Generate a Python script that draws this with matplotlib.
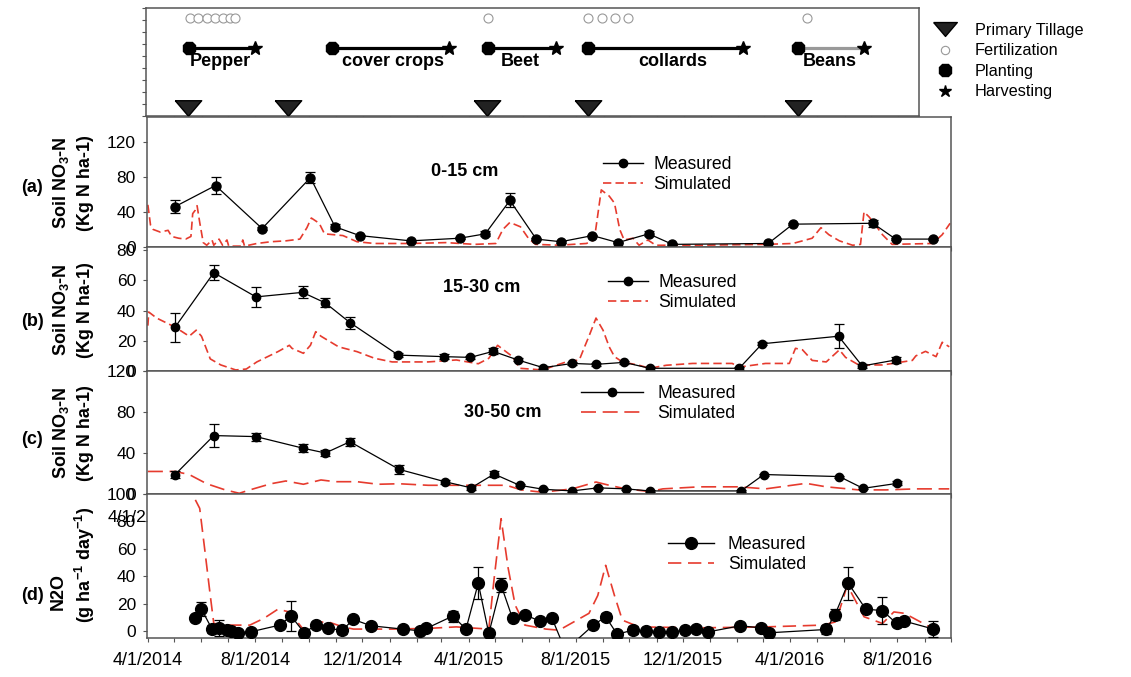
import numpy as np
import pandas as pd
import matplotlib
matplotlib.use('Agg')
import matplotlib.pyplot as plt
import matplotlib.dates as mdates
from matplotlib.lines import Line2D
from matplotlib.ticker import FuncFormatter, NullFormatter

plt.rcParams['font.family'] = ['Liberation Sans', 'DejaVu Sans']
plt.rcParams['mathtext.fontset'] = 'custom'
plt.rcParams['mathtext.rm'] = 'Liberation Sans'
plt.rcParams['mathtext.bf'] = 'Liberation Sans:bold'

# all x values are days after 4/1/2014
start = pd.Timestamp('2014-04-01')

# management events (top strip)
fert_day = [48, 57, 67, 76, 85, 93, 99, 387, 500, 516, 531, 546, 749]
plant_day = [47, 209, 387, 500, 739]
harvest_day = [122, 342, 464, 676, 814]
tillage_day = [45, 159, 385, 500, 739]
crop_names = ['Pepper', 'cover crops', 'Beet', 'collards', 'Beans']
crop_label_day = [82, 279, 423, 597, 775]

# (a) 0-15 cm
a_day = [31, 77, 130, 185, 213, 241, 299, 355, 384, 412, 442, 470, 506, 535, 570, 597, 706, 734, 825, 851, 894]
a_meas = [46, 70, 21, 79, 23, 13, 7, 10, 15, 53, 9, 6, 13, 5, 15, 3, 4, 26, 27, 9, 9]
a_err = [7, 10, 2, 6, 3, 1, 1, 1, 3, 8, 1, 1, 1, 1, 3, 1, 1, 1, 4, 1, 1]
a_sim_day = [0, 3, 6, 14, 23, 27, 35, 43, 49, 51, 54, 56, 59, 63, 67, 73, 75, 81, 85, 90,
             92, 106, 108, 110, 124, 140, 157, 173, 181, 186, 195, 201, 222, 238, 258, 299, 339, 372, 396, 404,
             412, 424, 433, 441, 468, 499, 508, 516, 525, 531, 537, 542, 552, 559, 569, 578, 628, 703, 734, 756,
             766, 775, 787, 802, 811, 815, 821, 828, 836, 847, 893, 904, 913]
a_sim = [48, 25, 20, 17, 19, 12, 10, 9, 12, 38, 42, 47, 28, 5, 2, 8, 2, 9, 2, 8,
         1, 1, 8, 1, 4, 6, 7, 9, 22, 33, 27, 15, 13, 6, 4, 4, 5, 3, 4, 20,
         28, 23, 10, 3, 2, 4, 8, 65, 58, 50, 20, 8, 10, 2, 8, 2, 2, 3, 4, 10,
         22, 14, 7, 2, 3, 40, 34, 25, 14, 3, 4, 14, 27]

# (b) 15-30 cm
b_day = [31, 75, 123, 176, 202, 230, 285, 337, 367, 393, 421, 450, 483, 510, 542, 571, 673, 699, 786, 813, 851]
b_meas = [29, 65, 49, 52, 45, 32, 10.5, 9.5, 9, 13, 7.3, 2.2, 5, 4.4, 5.7, 1.8, 1.8, 18, 23, 3.3, 7.3]
b_err = [9.5, 5, 6.5, 4, 3, 4, 1.5, 1.5, 1, 2, 1, 1, 1, 1, 1, 1, 1, 1, 8, 1, 2]
b_sim_day = [0, 1, 10, 31, 47, 55, 61, 71, 83, 100, 112, 124, 148, 161, 164, 177, 185, 191, 197, 217,
             238, 258, 278, 319, 351, 376, 388, 398, 415, 423, 449, 476, 491, 497, 502, 510, 518, 525, 531, 540,
             559, 571, 590, 620, 665, 673, 703, 730, 737, 745, 756, 772, 787, 794, 809, 836, 870, 874, 885, 897,
             904, 912]
b_sim = [30, 39, 35, 29, 23, 27, 23, 8, 4, 0.7, 1.3, 6, 12.8, 17, 15, 11.7, 17, 26, 23, 16,
         12.8, 8.4, 6, 6, 7.3, 4.8, 8.4, 17, 9.5, 1.8, 0.7, 6, 7.3, 16, 23, 35, 27, 16, 9.5, 6,
         3.8, 1.8, 3.8, 5, 5, 2.6, 5, 5, 15, 14, 7, 6, 14, 9, 4, 4, 7, 10, 13, 9.5,
         19, 16]

# (c) 30-50 cm
c_day = [31, 75, 123, 177, 202, 230, 286, 338, 368, 394, 423, 450, 483, 512, 544, 571, 675, 701, 787, 814, 853]
c_meas = [19, 57, 56, 44.6, 40, 51, 24, 12, 6, 19.5, 8.5, 4.6, 3, 6, 5, 3, 3, 19, 17, 5.5, 10.4]
c_err = [3, 11, 4, 4, 3, 4, 4, 2, 2, 3, 1, 1, 1, 1, 1, 1, 1, 1, 1, 1, 2]
c_sim_day = [0, 14, 31, 47, 67, 88, 104, 116, 140, 157, 177, 197, 213, 238, 262, 286, 319, 351, 384, 408,
             425, 449, 483, 510, 525, 544, 571, 586, 628, 673, 703, 749, 772, 809, 840, 874, 912]
c_sim = [22, 22, 22, 19, 10, 4, 0.7, 4, 10, 12.7, 9.5, 13.7, 12, 12, 9.5, 10, 8.5, 8.5, 8.5, 8.5,
         4, 1.7, 5, 11.7, 8.5, 5, 2.4, 5, 7, 7, 5, 10.4, 7, 4, 4, 5, 5]

# (d) N2O
d_day = [54, 61, 73, 81, 90, 95, 103, 117, 150, 163, 178, 191, 205, 221, 234, 254, 290, 310, 317, 347,
         362, 376, 388, 402, 415, 429, 446, 460, 475, 507, 521, 534, 552, 567, 582, 597, 611, 624, 638, 674,
         698, 707, 772, 782, 797, 817, 836, 852, 861, 894]
d_meas = [9.3, 16, 1.5, 2.4, 0.7, 0, -1, -0.5, 4.4, 11, -1.2, 4.4, 2, 0.7, 8.5, 3.9, 1.5, 0.2, 2, 11,
          1.5, 35, -1.7, 33.5, 9.3, 12, 7.3, 9.3, -14, 4.4, 10.5, -2.2, 0.7, 0.2, -0.5, -0.5, 0.7, 1.5, -0.5, 3.9,
          2.4, -1.2, 1.2, 12, 35, 16, 15, 5.6, 7.3, 1.5]
d_err = [2, 5, 3, 6, 2, 2, 1, 1, 1, 11, 1, 2, 1, 3, 2, 1, 1, 1, 1, 4,
         2, 11.5, 1, 5, 2, 1, 1, 2, 0, 1, 3, 1, 3, 1, 1, 1, 1, 1, 1, 1,
         1, 1, 3, 4, 12, 2, 10, 2, 1, 6]
d_sim_day = [50, 53, 59, 65, 71, 75, 92, 116, 132, 148, 161, 173, 179, 189, 205, 222, 234, 278, 319, 351,
             376, 388, 394, 402, 410, 418, 429, 453, 468, 502, 512, 521, 531, 540, 559, 628, 703, 768, 783, 796,
             815, 836, 849, 861, 893]
d_sim = [110, 97, 89.5, 58, 26, 5.6, 4.4, 4.4, 9.3, 16, 14, 4.4, -0.5, 6.3, 6.8, 3.1, 1.5, 1.5, 2, 3.1,
         2, 1.5, 38, 82, 46, 19, 4.4, 1.5, 0.7, 13, 26, 48, 26, 8, 3.1, 2.4, 3.1, 4.4, 6.8, 33.5,
         10.5, 5.6, 14, 13, 2]


def days(d):
    return start + pd.to_timedelta(np.asarray(d, dtype=float), unit='D')


W, H = 1131, 677
fig = plt.figure(figsize=(W / 100, H / 100), dpi=100)


def box(l, r, t, b):
    return [l / W, 1 - b / H, (r - l) / W, (b - t) / H]


def ftext(x, y, s, **kw):
    fig.text(x / W, 1 - y / H, s, **kw)


RED = '#e63b2e'
SPC = '#555555'
tick_fmt = FuncFormatter(lambda v, p: '{d.month}/{d.day}/{d.year}'.format(d=mdates.num2date(v)))


def style(ax, x0, x1):
    ax.set_xlim(days(x0), days(x1))
    ax.xaxis.set_major_locator(mdates.MonthLocator(bymonth=[4, 8, 12]))
    ax.xaxis.set_minor_locator(mdates.MonthLocator())
    ax.xaxis.set_major_formatter(NullFormatter())
    ax.tick_params(which='both', direction='out', length=3, width=0.8, color=SPC)
    ax.tick_params(axis='y', labelsize=12.5, pad=5)
    for s in ax.spines.values():
        s.set_color(SPC)
        s.set_linewidth(1.1)


# ---- top strip
ax_t = fig.add_axes(box(146, 919, 8, 116))
style(ax_t, -2.3, 876.5)
ax_t.set_ylim(0, 1)
ax_t.set_yticks(np.linspace(0, 1, 10))
ax_t.set_yticklabels([])
for i, name in enumerate(crop_names):
    lc = '#999999' if name == 'Beans' else 'black'
    ax_t.plot(days([plant_day[i], harvest_day[i]]), [0.63, 0.63], color=lc, lw=2.3, zorder=2)
    ax_t.text(days([crop_label_day[i]])[0], 0.5, name, ha='center', va='center',
              fontsize=13, fontweight='bold')
ax_t.plot(days(plant_day), [0.63] * len(plant_day), ls='none', marker='8', ms=10, color='black', zorder=3)
ax_t.plot(days(harvest_day), [0.63] * len(harvest_day), ls='none', marker='*', ms=10, color='black', zorder=3)
ax_t.plot(days(fert_day), [0.907] * len(fert_day), ls='none', marker='o', ms=6.5, mfc='white',
          mec='#999999', mew=0.8)
tri = [(-1.7, 1), (1.7, 1), (0, -1), (-1.7, 1)]
ax_t.plot(days(tillage_day), [0.075] * len(tillage_day), ls='none', marker=tri, ms=19, mfc='#222222',
          mec='black', clip_on=False, zorder=4)

ev_handles = [
    Line2D([], [], ls='none', marker=tri, ms=17, mfc='#222222', mec='black'),
    Line2D([], [], ls='none', marker='o', ms=6, mfc='white', mec='#999999', mew=0.8),
    Line2D([], [], ls='none', marker='8', ms=10, color='black'),
    Line2D([], [], ls='none', marker='*', ms=9, color='black'),
]
fig.legend(ev_handles, ['Primary Tillage', 'Fertilization', 'Planting', 'Harvesting'],
           loc='upper left', bbox_to_anchor=(921 / W, 1 - 15 / H), frameon=False, fontsize=11.7,
           borderpad=0, labelspacing=0.33, handlelength=2.0, handletextpad=0.8)


def leg(ax, x, y, ms, dash, hl, tp, fs=12.7):
    hs = [Line2D([], [], color='black', lw=1, marker='o', ms=ms),
          Line2D([], [], color=RED, lw=1.2, dashes=dash)]
    ax.legend(hs, ['Measured', 'Simulated'], loc='upper left', bbox_to_anchor=(x / W, 1 - y / H),
              bbox_transform=fig.transFigure, frameon=False, fontsize=fs, borderpad=0,
              labelspacing=0.18, handlelength=hl, handletextpad=tp)


def panel(rect, mday, mval, merr, sday, sval, ylim, yticks, ms, dash):
    ax = fig.add_axes(box(*rect))
    style(ax, -1, 914)
    ax.plot(days(sday), sval, color=RED, lw=1.2, dashes=dash, zorder=2)
    ax.errorbar(days(mday), mval, yerr=merr, color='black', lw=0.9, marker='o', ms=ms,
                capsize=3.5, elinewidth=0.9, capthick=0.9, zorder=3)
    ax.set_ylim(*ylim)
    ax.set_yticks(yticks)
    return ax


ax_a = panel((147, 951, 117, 247), a_day, a_meas, a_err, a_sim_day, a_sim, (0, 148), [0, 40, 80, 120], 6.5, (5, 2.5))
ax_b = panel((147, 951, 247, 371), b_day, b_meas, b_err, b_sim_day, b_sim, (0, 82), [0, 20, 40, 60, 80], 6, (5, 2.5))
ax_c = panel((147, 951, 371, 494), c_day, c_meas, c_err, c_sim_day, c_sim, (0, 120), [0, 40, 80, 120], 6, (9, 4))
ax_d = panel((147, 951, 494, 638), d_day, d_meas, d_err, d_sim_day, d_sim, (-5, 100), [0, 20, 40, 60, 80, 100], 8.5, (8, 4))
ax_d.xaxis.set_major_formatter(tick_fmt)
ax_d.tick_params(axis='x', labelsize=13, pad=7)

leg(ax_a, 594, 147, 6, (5, 2.5), 2.3, 0.57)
leg(ax_b, 599, 265, 6, (5, 2.5), 2.3, 0.57)
leg(ax_c, 572, 376, 6, (9, 4), 3.5, 0.85)
leg(ax_d, 659, 527, 8.5, (8, 4), 2.6, 0.8)

bold = dict(ha='center', va='center', fontsize=13, fontweight='bold')
ftext(465, 172, '0-15 cm', **bold)
ftext(482, 288, '15-30 cm', **bold)
ftext(503, 412, '30-50 cm', **bold)

for lab, yc in [('(a)', 188), ('(b)', 322), ('(c)', 440), ('(d)', 596)]:
    ftext(32, yc, lab, **bold)
for yc in [183, 310, 433]:
    ftext(61, yc, r'Soil NO$_\mathbf{3}$-N', rotation=90, **bold)
    ftext(86, yc, '(Kg N ha-1)', rotation=90, **bold)
ftext(58, 592, 'N2O', rotation=90, **bold)
ftext(85, 565, r'(g ha$^{\mathbf{-1}}$ day$^{\mathbf{-1}}$)', rotation=90, **bold)
ftext(146, 517, '4/1/2', ha='right', va='center', fontsize=12.5)

fig.savefig('out.png', dpi=100)
